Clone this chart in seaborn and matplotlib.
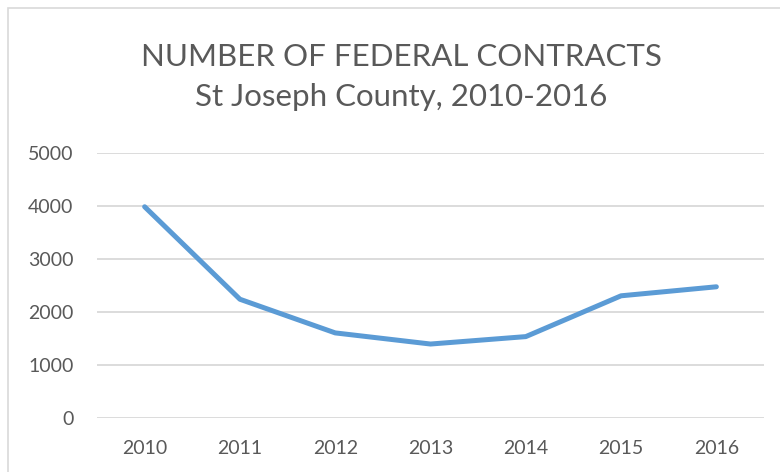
import matplotlib
matplotlib.use("Agg")
import matplotlib.pyplot as plt
import pandas as pd
import seaborn as sns
from matplotlib.patches import Rectangle

YEARS = ["2010", "2011", "2012", "2013", "2014", "2015", "2016"]
CONTRACTS = [3980, 2235, 1600, 1390, 1530, 2300, 2470]
Y_TICKS = [0, 1000, 2000, 3000, 4000, 5000]

TITLE = "NUMBER OF FEDERAL CONTRACTS\nSt Joseph County, 2010-2016"

LINE_COLOR = "#5B9BD5"
TEXT_COLOR = "#595959"
GRID_COLOR = "#D9D9D9"


def main() -> None:
    sns.set_theme(style="white")
    plt.rcParams["font.family"] = ["Lato", "DejaVu Sans"]

    df = pd.DataFrame({"year": YEARS, "contracts": CONTRACTS})

    fig = plt.figure(figsize=(7.8, 4.72), dpi=100)
    ax = fig.add_axes([97 / 780, 1 - 417.7 / 472, (764 - 97) / 780, (417.7 - 152.7) / 472])

    sns.lineplot(data=df, x="year", y="contracts", ax=ax, color=LINE_COLOR,
                 linewidth=3.6, solid_capstyle="round", solid_joinstyle="round")

    ax.set_xlim(-0.5, len(YEARS) - 0.5)
    ax.set_ylim(Y_TICKS[0], Y_TICKS[-1])
    ax.set_yticks(Y_TICKS)
    ax.set_yticklabels([str(v) for v in Y_TICKS])
    ax.grid(axis="y", color=GRID_COLOR, linewidth=1.3)
    ax.set_axisbelow(True)
    for side in ax.spines.values():
        side.set_visible(False)
    ax.set_xlabel("")
    ax.set_ylabel("")
    ax.tick_params(axis="both", length=0, labelsize=14, colors=TEXT_COLOR)
    ax.tick_params(axis="y", pad=17)
    ax.tick_params(axis="x", pad=16)

    fig.text(401 / 780, 1 - 77 / 472, TITLE, ha="center", va="center",
             fontsize=22.5, color=TEXT_COLOR, linespacing=1.5)

    fig.patches.append(Rectangle((7.5 / 780, -0.1), 1.2, 1.1 - 8 / 472,
                                 transform=fig.transFigure, fill=False,
                                 edgecolor=GRID_COLOR, linewidth=1.2))

    fig.savefig("out.png", dpi=100)
    plt.close(fig)


if __name__ == "__main__":
    main()
